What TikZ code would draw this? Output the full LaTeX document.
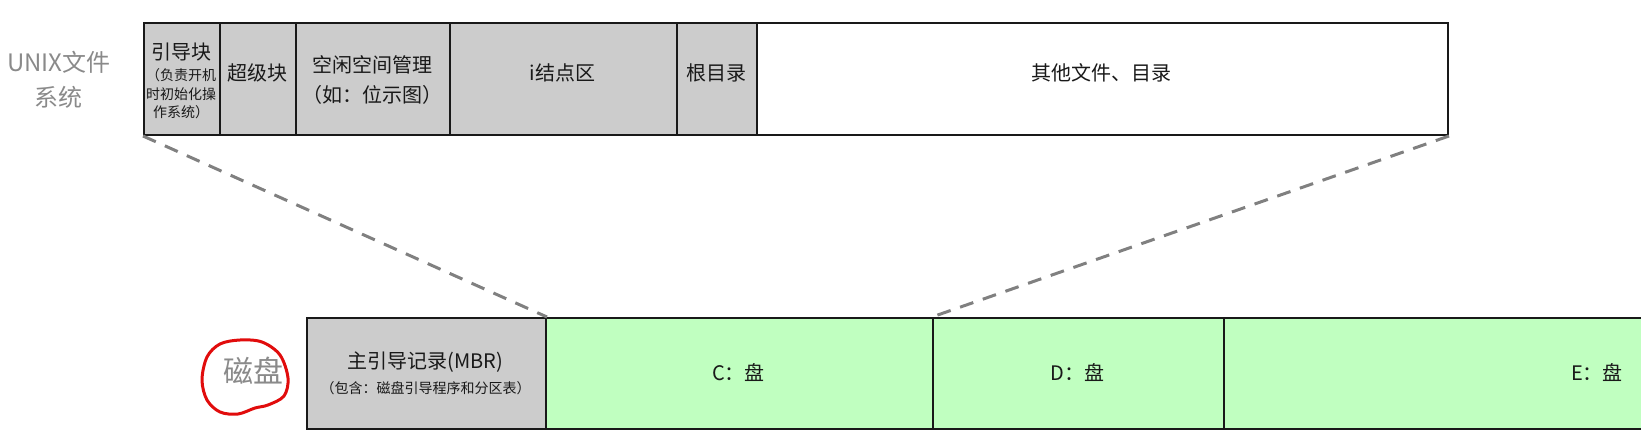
\documentclass[tikz,border=0pt]{standalone}
\usepackage{fontspec}
\newfontfamily\cjk{Noto Sans CJK SC}
\definecolor{boxgray}{RGB}{204,204,204}
\definecolor{boxgreen}{RGB}{192,255,192}
\definecolor{labelgray}{RGB}{138,138,138}
\definecolor{dashgray}{RGB}{128,128,128}
\definecolor{circred}{RGB}{225,12,12}
\begin{document}
\begin{tikzpicture}[x=1pt,y=-1pt,
 cell/.style={draw=black!90, line width=2pt, rectangle, inner sep=0pt, anchor=north west},
 graycell/.style={cell, fill=boxgray},
 greencell/.style={cell, fill=boxgreen},
 whitecell/.style={cell, fill=white},
 big/.style={font=\cjk\fontsize{20}{30}\selectfont, text=black!90, inner sep=0pt, align=center},
 small/.style={font=\cjk\fontsize{14}{18.5}\selectfont, text=black!90, inner sep=0pt, align=center},
 side/.style={font=\cjk\fontsize{24}{35}\selectfont, text=labelgray, inner sep=0pt, align=center},
 zoomline/.style={dashgray, line width=3pt, dash pattern=on 14pt off 10pt}
]
\useasboundingbox (0,0) rectangle (1641,439);
\clip (0,0) rectangle (1641,439);

% top row: UNIX file system
\node[graycell, minimum width=76pt, minimum height=112pt] (boot) at (143,22) {};
\node[graycell, minimum width=76pt, minimum height=112pt] (super) at (219,22) {};
\node[graycell, minimum width=154pt, minimum height=112pt] (free) at (295,22) {};
\node[graycell, minimum width=227pt, minimum height=112pt] (inode) at (449,22) {};
\node[graycell, minimum width=80pt, minimum height=112pt] (root) at (676,22) {};
\node[whitecell, minimum width=691pt, minimum height=112pt] (others) at (756,22) {};

% bottom row: disk
\node[graycell, minimum width=239pt, minimum height=111pt] (mbr) at (306,317) {};
\node[greencell, minimum width=387pt, minimum height=111pt] (cdisk) at (545,317) {};
\node[greencell, minimum width=291pt, minimum height=111pt] (ddisk) at (932,317) {};
\node[greencell, minimum width=748pt, minimum height=111pt] (edisk) at (1223,317) {};

% zoom lines
\draw[zoomline] (boot.south west) -- (mbr.north east);
\draw[zoomline] (others.south east) -- (ddisk.north west);

% texts top
\node[side] (unix) at (59,80) {UNIX文件\\系统};
\node[big] (bootT) at (181,52) {引导块};
\node[small] (bootS) at (181,94) {（负责开机\\时初始化操\\作系统）};
\node[big] (superT) at (257,73) {超级块};
\node[big] (freeT) at (372,80) {空闲空间管理\\（如：位示图）};
\node[big] (inodeT) at (562.5,73) {i结点区};
\node[big] (rootT) at (716,73) {根目录};
\node[big] (othersT) at (1101.5,73) {其他文件、目录};

% texts bottom
\node[font=\cjk\fontsize{30}{30}\selectfont, text=labelgray, inner sep=0pt] (disk) at (253,371) {磁盘};
\node[big] (mbrT) at (425.5,362) {主引导记录(MBR)};
\node[small] (mbrS) at (425.5,388) {（包含：磁盘引导程序和分区表）};
\node[big] (cT) at (738.5,373) {C：盘};
\node[big] (dT) at (1077.5,373) {D：盘};
\node[big] (eT) at (1597,373) {E：盘};

% hand-drawn red circle
\draw[circred, line width=3pt, line join=round]
  plot[smooth cycle, tension=0.55] coordinates {(202,380) (207,357) (220,344) (240,340) (262,342) (280,355) (288,378) (284,396) (268,405) (255,408) (238,414) (220,412) (207,400)};
\end{tikzpicture}
\end{document}
